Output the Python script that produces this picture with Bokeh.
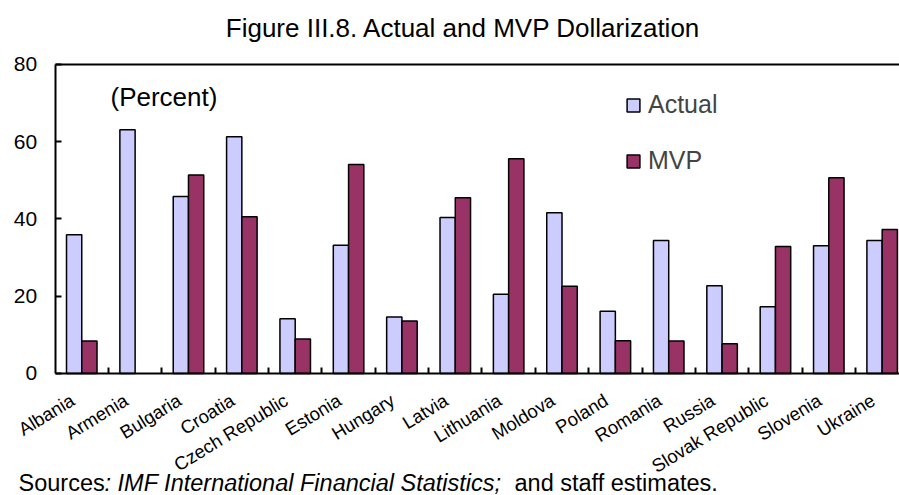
from bokeh.plotting import figure
from bokeh.models import (Range1d, FixedTicker, Label, Legend, LegendItem, ColumnDataSource,
                          LinearAxis)
from bokeh.transform import dodge
from bokeh.embed import file_html
from bokeh.resources import INLINE

countries = ["Albania", "Armenia", "Bulgaria", "Croatia", "Czech Republic", "Estonia",
             "Hungary", "Latvia", "Lithuania", "Moldova", "Poland", "Romania", "Russia",
             "Slovak Republic", "Slovenia", "Ukraine"]
actual = [35.9, 63.1, 45.8, 61.3, 14.2, 33.2, 14.6, 40.4, 20.5, 41.6, 16.1, 34.4, 22.7, 17.3, 33.1, 34.4]
mvp = [8.4, float("nan"), 51.4, 40.6, 8.9, 54.1, 13.6, 45.5, 55.6, 22.6, 8.5, 8.4, 7.7, 32.9, 50.7, 37.3]
y_ticks = [0, 20, 40, 60, 80]

FONT = "Liberation Sans"
W, H = 899, 495

src = ColumnDataSource(dict(idx=list(range(len(countries))), actual=actual, mvp=mvp))

# the frame covers the whole canvas; axes sit at fixed data locations inside it
X0, X1 = -1.523, 15.325
Y0, Y1 = -31.59, 96.57
p = figure(width=W, height=H, x_range=Range1d(X0, X1), y_range=Range1d(Y0, Y1),
           output_backend="svg", toolbar_location=None, min_border=0,
           min_border_left=0, min_border_right=0, min_border_top=0, min_border_bottom=0)
p.title.visible = False
p.outline_line_color = None
p.xgrid.visible = False
p.ygrid.visible = False

bw = 0.286
r1 = p.vbar(x=dodge("idx", -0.143, range=p.x_range), top="actual", width=bw, source=src,
            fill_color="#CCCCFF", line_color="black", line_width=1.5)
r2 = p.vbar(x=dodge("idx", 0.143, range=p.x_range), top="mvp", width=bw, source=src,
            fill_color="#993366", line_color="black", line_width=1.5)

# x axis: category labels anchored slightly left of each category centre
label_pos = [i - 0.17 for i in range(len(countries))]
xa = p.xaxis[0]
xa.fixed_location = 0
xa.bounds = (-0.5, X1)
xa.ticker = FixedTicker(ticks=label_pos,
                        minor_ticks=[i + 0.5 for i in range(len(countries) - 1)])
xa.major_label_overrides = {pos: c for pos, c in zip(label_pos, countries)}
xa.major_tick_line_color = None
xa.major_tick_in = 0
xa.major_tick_out = 0
xa.minor_tick_in = 6
xa.minor_tick_out = 0
xa.minor_tick_line_width = 2
xa.minor_tick_line_color = "black"
xa.axis_line_width = 2
xa.axis_line_color = "black"
xa.major_label_orientation = 0.55
xa.major_label_standoff = 25
xa.major_label_text_font = FONT
xa.major_label_text_font_size = "18.5px"
xa.major_label_text_color = "black"

# y axis
ya = p.yaxis[0]
ya.fixed_location = -0.5
ya.bounds = (0, 80)
ya.ticker = FixedTicker(ticks=y_ticks)
ya.minor_tick_line_color = None
ya.major_tick_in = 6
ya.major_tick_out = 0
ya.major_tick_line_width = 2
ya.major_tick_line_color = "black"
ya.axis_line_width = 2
ya.axis_line_color = "black"
ya.major_label_standoff = 18
ya.major_label_text_font = FONT
ya.major_label_text_font_size = "21px"
ya.major_label_text_color = "black"

# top border of the plot area
top = LinearAxis(fixed_location=80, bounds=(-0.5, X1), ticker=FixedTicker(ticks=[]),
                 axis_line_width=2, axis_line_color="black",
                 major_tick_line_color=None, minor_tick_line_color=None,
                 major_label_text_font_size="0px")
p.add_layout(top, "above")

legend = Legend(items=[LegendItem(label="Actual", renderers=[r1]),
                       LegendItem(label="MVP", renderers=[r2])],
                location=(625, 320), glyph_width=16, glyph_height=16, label_standoff=7,
                padding=0, margin=0, spacing=27, border_line_color=None,
                background_fill_alpha=0, label_text_font=FONT, label_text_font_size="25px")
p.add_layout(legend)

def lab(text, x, y, size, style="normal", align="left"):
    p.add_layout(Label(x=x, y=y, x_units="screen", y_units="screen", text=text,
                       text_font=FONT, text_font_size=size, text_font_style=style,
                       text_align=align, text_baseline="alphabetic", text_color="black"))

lab("Figure III.8. Actual and MVP Dollarization", 463, H - 27, "26px", align="center")
lab("(Percent)", 110, H - 96, "26px")
lab("Sources", 18, H - 482, "23.5px")
lab(": IMF International Financial Statistics;", 104, H - 482, "23.5px", style="italic")
lab("and staff estimates.", 514, H - 482, "23.5px")

open("out.html", "w").write(file_html(p, INLINE))
